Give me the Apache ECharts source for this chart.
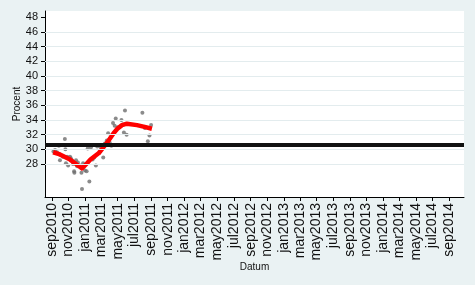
<!DOCTYPE html>
<html><head><meta charset="utf-8">
<script src="https://cdn.jsdelivr.net/npm/echarts@6/dist/echarts.min.js"></script>
<style>html,body{margin:0;padding:0;background:#eaf2f3;}#c{width:475px;height:285px;}</style>
</head><body><div id="c"></div>
<script>
// ---- data ----
const obsDates = ['2010-09-07','2010-09-13','2010-09-20','2010-09-27','2010-09-29','2010-10-01','2010-10-12','2010-10-19','2010-10-21','2010-10-23','2010-10-27','2010-10-31','2010-11-07','2010-11-10','2010-11-14','2010-11-18','2010-11-22','2010-11-23','2010-11-29','2010-12-03','2010-12-06','2010-12-14','2010-12-19','2010-12-21','2010-12-25','2011-01-01','2011-01-07','2011-01-11','2011-01-17','2011-01-23','2011-01-29','2011-02-04','2011-02-10','2011-02-15','2011-02-21','2011-02-25','2011-03-01','2011-03-09','2011-03-15','2011-03-22','2011-03-27','2011-04-02','2011-04-08','2011-04-14','2011-04-20','2011-04-24','2011-05-01','2011-05-15','2011-05-20','2011-05-24','2011-05-28','2011-06-03','2011-07-31','2011-08-09','2011-08-20','2011-08-26','2011-09-01'];
const obsValues = [29.7,29.9,29.6,30.5,29.3,28.5,29.0,31.4,30.0,28.1,29.0,27.8,29.0,28.8,28.5,28.0,27.0,26.8,28.5,27.7,28.2,27.8,26.8,24.6,28.1,27.1,27.0,30.1,25.6,30.3,28.6,28.9,27.8,30.4,29.5,30.5,30.2,28.9,30.8,31.2,32.2,30.9,30.5,33.6,33.2,34.2,33.0,34.0,33.4,32.3,35.3,32.0,35.0,32.9,31.1,31.9,33.3];
const smoothDates = ['2010-09-06','2010-10-01','2010-11-07','2010-11-29','2010-12-21','2011-01-06','2011-01-21','2011-02-21','2011-03-06','2011-03-23','2011-04-16','2011-04-30','2011-05-17','2011-06-04','2011-07-11','2011-08-04','2011-09-04'];
const smoothValues = [29.6,29.3,28.6,28.0,27.4,28.0,28.6,29.5,30.1,30.9,32.2,32.8,33.3,33.5,33.3,33.1,32.8];
const refLine = 30.63;
const yTicks = [28,30,32,34,36,38,40,42,44,46,48];
const yGrid = [28,30,32,34,36,38,40,42,44,46];
const xTickDates = ['2010-09-01','2010-11-01','2011-01-01','2011-03-01','2011-05-01','2011-07-01','2011-09-01','2011-11-01','2012-01-01','2012-03-01','2012-05-01','2012-07-01','2012-09-01','2012-11-01','2013-01-01','2013-03-01','2013-05-01','2013-07-01','2013-09-01','2013-11-01','2014-01-01','2014-03-01','2014-05-01','2014-07-01','2014-09-01'];
const xTickLabels = ['sep2010','nov2010','jan2011','mar2011','may2011','jul2011','sep2011','nov2011','jan2012','mar2012','may2012','jul2012','sep2012','nov2012','jan2013','mar2013','may2013','jul2013','sep2013','nov2013','jan2014','mar2014','may2014','jul2014','sep2014'];
const xRange = ['2010-08-07','2014-10-25'];
const yRange = [23.5, 48.86];

// ---- build ----
const ts = s => Date.parse(s + 'T00:00:00Z');
const xTickTs = xTickDates.map(ts);
const labelFor = v => { const i = xTickTs.indexOf(v); return i >= 0 ? xTickLabels[i] : ''; };
const FONT = 'Liberation Sans, Arial, sans-serif';

const chart = echarts.init(document.getElementById('c'), null, {renderer: 'canvas'});
chart.setOption({
  backgroundColor: '#eaf2f3',
  animation: false,
  grid: {left: 45, right: 11, top: 11, bottom: 88, show: true, backgroundColor: '#ffffff', borderWidth: 0},
  xAxis: {
    type: 'value', min: ts(xRange[0]), max: ts(xRange[1]),
    name: 'Datum', nameLocation: 'middle', nameGap: 65, nameMoveOverlap: false,
    nameTextStyle: {fontFamily: FONT, fontSize: 10, color: '#111'},
    axisLine: {show: true, onZero: false, lineStyle: {color: '#000', width: 1}},
    axisTick: {show: true, length: 4, customValues: xTickTs, lineStyle: {color: '#000'}},
    axisLabel: {show: true, rotate: 90, margin: 6, fontFamily: FONT, fontSize: 14, color: '#111',
      customValues: xTickTs, formatter: v => labelFor(v)},
    splitLine: {show: false}
  },
  yAxis: {
    type: 'value', min: yRange[0], max: yRange[1],
    name: 'Procent', nameLocation: 'middle', nameGap: 23, nameMoveOverlap: false,
    nameTextStyle: {fontFamily: FONT, fontSize: 10, color: '#111'},
    axisLine: {show: true, lineStyle: {color: '#000', width: 1}},
    axisTick: {show: true, length: 4, customValues: yTicks, lineStyle: {color: '#000'}},
    axisLabel: {show: true, margin: 7, fontFamily: FONT, fontSize: 11, color: '#111', customValues: yTicks},
    splitLine: {show: false}
  },
  series: [
    {type: 'line', data: [], z: 1, silent: true,
     markLine: {silent: true, symbol: 'none', label: {show: false}, animation: false,
       lineStyle: {color: '#e3ecee', width: 1, type: 'solid'},
       data: yGrid.map(v => ({yAxis: v}))}},
    {type: 'line', data: [], z: 2, silent: true,
     markLine: {silent: true, symbol: 'none', label: {show: false}, animation: false,
       lineStyle: {color: '#111', width: 4, type: 'solid'},
       data: [{yAxis: refLine}]}},
    {type: 'scatter', z: 3, symbol: 'circle', symbolSize: 4,
     itemStyle: {color: '#6e6e6e'},
     data: obsDates.map((d, i) => [ts(d), obsValues[i]])},
    {type: 'line', z: 4, showSymbol: false, smooth: false,
     lineStyle: {color: '#ff0000', width: 4.5, join: 'round'},
     data: smoothDates.map((d, i) => [ts(d), smoothValues[i]])}
  ]
});
</script></body></html>
